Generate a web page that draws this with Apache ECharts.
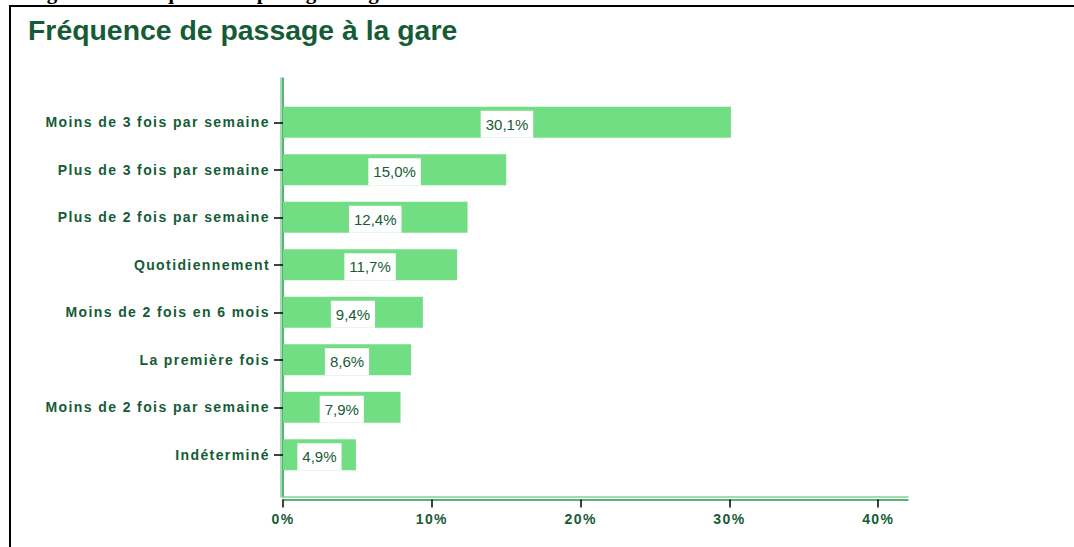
<!DOCTYPE html>
<html>
<head>
<meta charset="utf-8">
<script src="https://cdn.jsdelivr.net/npm/echarts@6/dist/echarts.min.js"></script>
<style>
html,body{margin:0;padding:0;background:#fff;}
#c{width:1074px;height:547px;}
#c text[style*="14px"]{letter-spacing:1.4px;}
</style>
</head>
<body>
<div id="c"></div>
<script>
const titleText = 'Fréquence de passage à la gare';
const captionText = 'Figure 12 : Fréquence de passage à la gare';
const categories = [
  'Moins de 3 fois par semaine',
  'Plus de 3 fois par semaine',
  'Plus de 2 fois par semaine',
  'Quotidiennement',
  'Moins de 2 fois en 6 mois',
  'La première fois',
  'Moins de 2 fois par semaine',
  'Indéterminé'
];
const values = [30.1, 15.0, 12.4, 11.7, 9.4, 8.6, 7.9, 4.9];
const xTicks = [0, 10, 20, 30, 40];
const xMax = 42;
const frameCats = [''];

const green = '#155c36';
const font = "'Liberation Sans', Arial, sans-serif";
const chart = echarts.init(document.getElementById('c'), null, {renderer: 'svg'});

const option = {
  backgroundColor: '#fff',
  animation: false,
  title: {
    text: titleText,
    left: 28, top: 16, padding: 0,
    textStyle: {fontFamily: font, fontSize: 28.4, fontWeight: 'bold', color: green}
  },
  graphic: [
    {type: 'text', left: 28, top: -19, style: {text: captionText, font: "bold 21px 'Liberation Serif', 'Times New Roman', serif", fill: '#000'}},
    {type: 'rect', shape: {x: 9, y: 5, width: 1065, height: 2}, style: {fill: '#000'}},
    {type: 'rect', shape: {x: 9, y: 5, width: 2, height: 542}, style: {fill: '#000'}}
  ],
  grid: [
    {left: 283, top: 98.5, width: 625, height: 380},
    {left: 283, top: 78, width: 625, height: 419}
  ],
  xAxis: [
    {gridIndex: 0, type: 'value', min: 0, max: xMax, show: false},
    {gridIndex: 1, type: 'value', min: 0, max: xMax, position: 'bottom',
      axisLine: {show: true, onZero: false, lineStyle: {color: '#86cf99', width: 1.5}},
      axisTick: {show: false}, axisLabel: {show: false}, splitLine: {show: false}},
    {gridIndex: 1, type: 'value', min: 0, max: xMax, position: 'bottom', offset: 2.5,
      axisLine: {show: true, onZero: false, lineStyle: {color: '#1f9a4b', width: 1.5}},
      axisTick: {show: true, customValues: xTicks, length: 8, lineStyle: {color: '#000', width: 1.5}},
      axisLabel: {show: true, customValues: xTicks, formatter: v => v + '%', margin: 12,
        fontFamily: font, fontSize: 14, fontWeight: 'bold', color: green},
      splitLine: {show: false}}
  ],
  yAxis: [
    {gridIndex: 0, type: 'category', data: categories, inverse: true, offset: 3,
      axisLine: {show: false},
      axisTick: {show: true, alignWithLabel: true, length: 9, lineStyle: {color: '#000', width: 1.5}},
      axisLabel: {margin: 10, fontFamily: font, fontSize: 14, fontWeight: 'bold', color: green}},
    {gridIndex: 1, type: 'category', data: frameCats, position: 'left',
      axisLine: {show: true, onZero: false, lineStyle: {color: '#1f9a4b', width: 1.5}},
      axisTick: {show: false}, axisLabel: {show: false}, splitLine: {show: false}},
    {gridIndex: 1, type: 'category', data: frameCats, position: 'left', offset: 2.5,
      axisLine: {show: true, onZero: false, lineStyle: {color: '#86cf99', width: 1.5}},
      axisTick: {show: false}, axisLabel: {show: false}, splitLine: {show: false}}
  ],
  series: [{
    type: 'bar',
    xAxisIndex: 0, yAxisIndex: 0,
    data: values,
    barWidth: 31,
    itemStyle: {color: '#72de84'},
    label: {
      show: true, position: 'inside',
      formatter: p => p.value.toFixed(1).replace('.', ',') + '%',
      fontFamily: font, fontSize: 15, color: green,
      backgroundColor: '#fff', padding: [5, 5, 5, 5], lineHeight: 17,
      offset: [0, 2]
    }
  }]
};
chart.setOption(option);
</script>
</body>
</html>
